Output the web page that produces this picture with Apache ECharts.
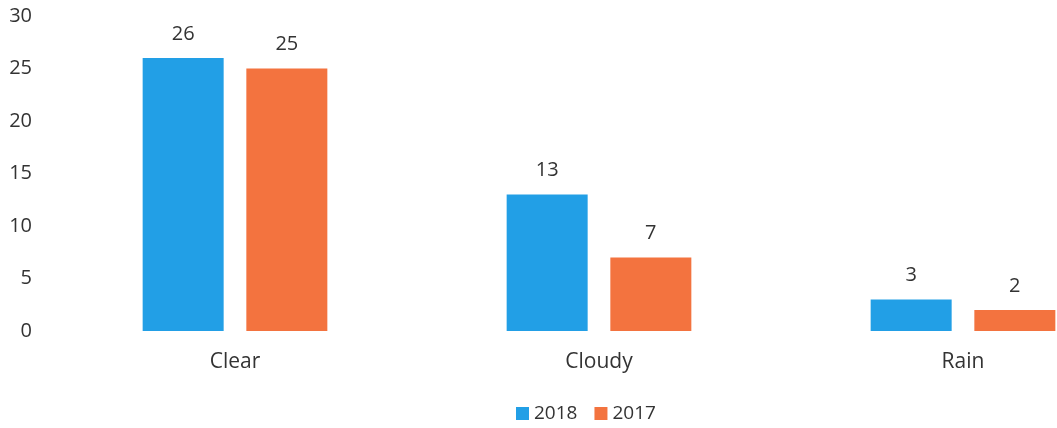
<!DOCTYPE html>
<html>
<head>
<meta charset="utf-8">
<script src="https://cdn.jsdelivr.net/npm/echarts@6/dist/echarts.min.js"></script>
<style>
  html, body { margin: 0; padding: 0; background: #fff; }
  #chart-container { width: 1057px; height: 428px; }
</style>
</head>
<body>
<div id="chart-container"></div>
<script>
const categories = ["Clear", "Cloudy", "Rain"];
const values2018 = [26, 13, 3];
const values2017 = [25, 7, 2];
const yTicks = [0, 5, 10, 15, 20, 25, 30];

const dom = document.getElementById("chart-container");
const chart = echarts.init(dom, null, { renderer: "canvas" });

const font = "'Open Sans', 'Noto Sans', sans-serif";
const labelStyle = { show: true, position: "top", distance: 14, fontSize: 20, color: "#333", fontFamily: font };

// the plot runs past the right edge in the reference (cropped scan)
const option = {
  animation: false,
  grid: { left: 53, top: 16, right: -88, bottom: 97, containLabel: false, outerBoundsMode: "none" },
  legend: {
    left: 511,
    bottom: 0,
    itemWidth: 13,
    itemHeight: 13,
    itemGap: 17,
    icon: "rect",
    textStyle: { fontSize: 19, color: "#333", fontFamily: font },
    data: ["2018", "2017"],
  },
  xAxis: {
    type: "category",
    data: categories,
    axisLine: { show: false },
    axisTick: { show: false },
    axisLabel: { fontSize: 21, color: "#333", margin: 21, fontFamily: font },
  },
  yAxis: {
    type: "value",
    min: yTicks[0],
    max: yTicks[yTicks.length - 1],
    interval: 5,
    splitLine: { show: false },
    axisLine: { show: false },
    axisTick: { show: false },
    axisLabel: { fontSize: 20, color: "#333", margin: 21, fontFamily: font },
  },
  series: [
    {
      name: "2018",
      type: "bar",
      data: values2018,
      barWidth: 81,
      barGap: "28%",
      itemStyle: { color: "#229fe6" },
      label: labelStyle,
    },
    {
      name: "2017",
      type: "bar",
      data: values2017,
      barWidth: 81,
      itemStyle: { color: "#f3733f" },
      label: labelStyle,
    },
  ],
};

chart.setOption(option);
</script>
</body>
</html>
